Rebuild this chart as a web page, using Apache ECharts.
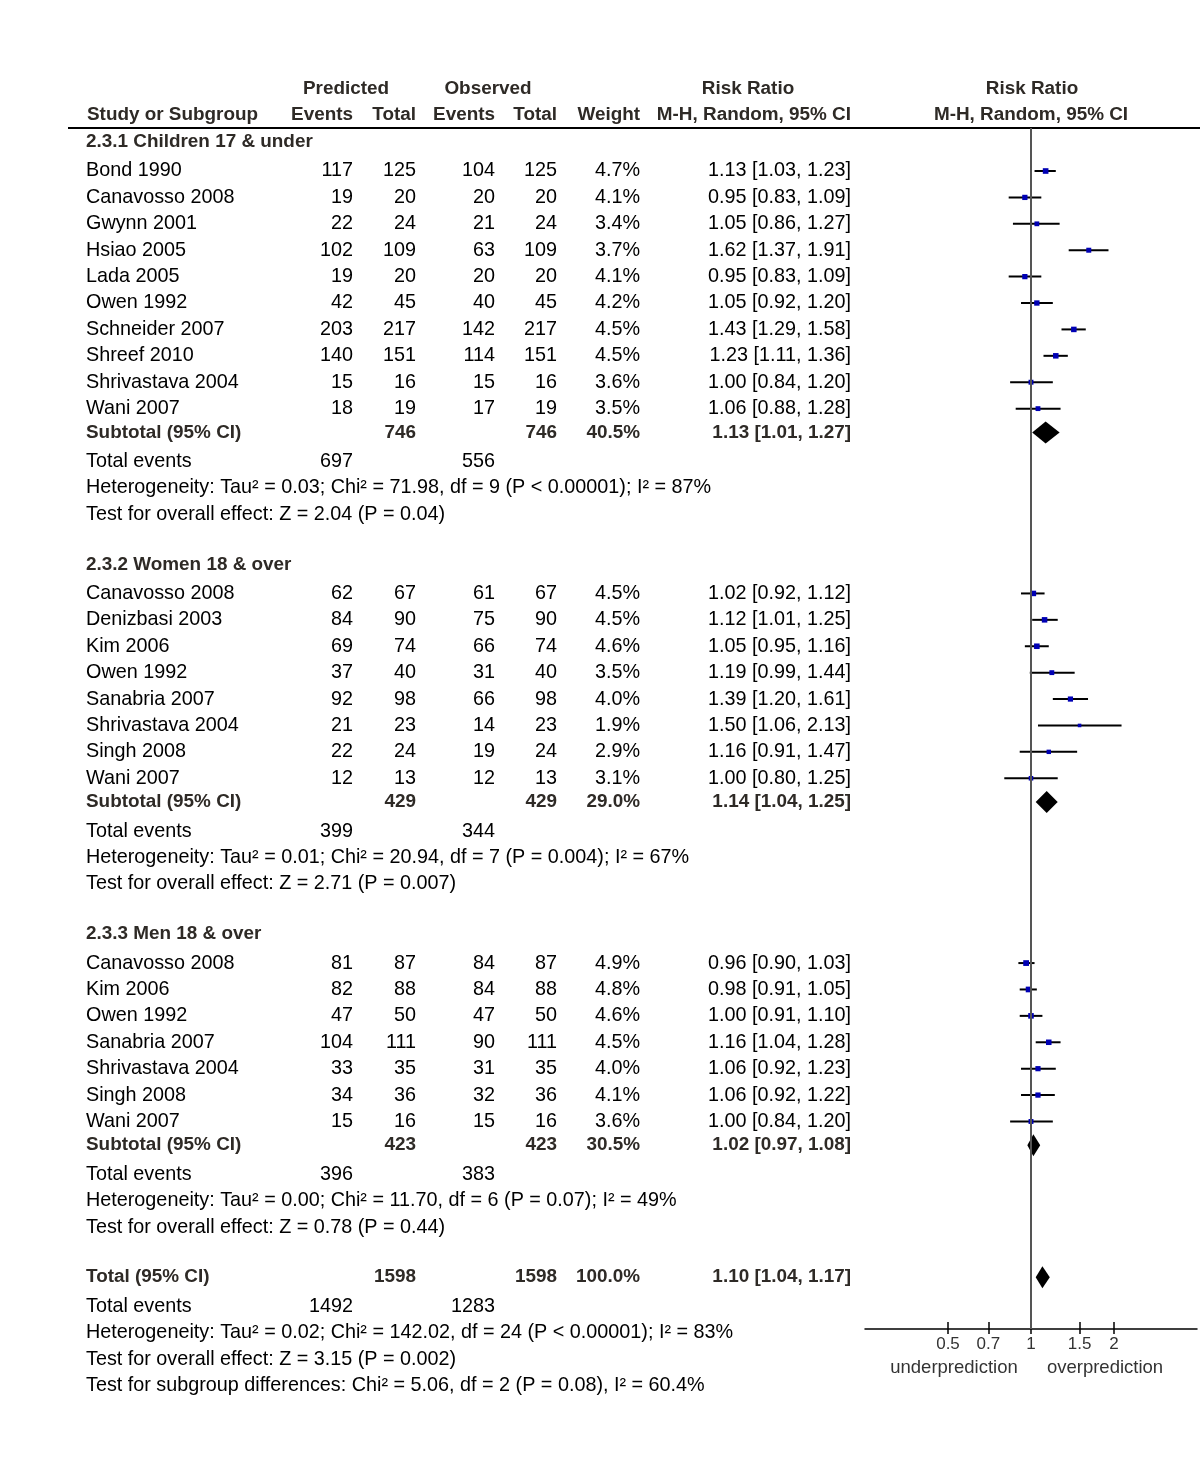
<!DOCTYPE html>
<html><head><meta charset="utf-8">
<script src="https://cdn.jsdelivr.net/npm/echarts@6/dist/echarts.min.js"></script>
<style>html,body{margin:0;padding:0;background:#fff}#c{width:1200px;height:1460px}</style>
</head><body><div id="c"></div>
<script>
// ---------------- DATA ----------------
const groupTitles = ["2.3.1 Children 17 & under", "2.3.2 Women 18 & over", "2.3.3 Men 18 & over"];

const names1 = ["Bond 1990","Canavosso 2008","Gwynn 2001","Hsiao 2005","Lada 2005","Owen 1992","Schneider 2007","Shreef 2010","Shrivastava 2004","Wani 2007"];
const predEvents1 = [117,19,22,102,19,42,203,140,15,18];
const predTotal1  = [125,20,24,109,20,45,217,151,16,19];
const obsEvents1  = [104,20,21,63,20,40,142,114,15,17];
const obsTotal1   = [125,20,24,109,20,45,217,151,16,19];
const weight1 = [4.7,4.1,3.4,3.7,4.1,4.2,4.5,4.5,3.6,3.5];
const rr1 = [1.13,0.95,1.05,1.62,0.95,1.05,1.43,1.23,1.00,1.06];
const lo1 = [1.03,0.83,0.86,1.37,0.83,0.92,1.29,1.11,0.84,0.88];
const hi1 = [1.23,1.09,1.27,1.91,1.09,1.20,1.58,1.36,1.20,1.28];

const names2 = ["Canavosso 2008","Denizbasi 2003","Kim 2006","Owen 1992","Sanabria 2007","Shrivastava 2004","Singh 2008","Wani 2007"];
const predEvents2 = [62,84,69,37,92,21,22,12];
const predTotal2  = [67,90,74,40,98,23,24,13];
const obsEvents2  = [61,75,66,31,66,14,19,12];
const obsTotal2   = [67,90,74,40,98,23,24,13];
const weight2 = [4.5,4.5,4.6,3.5,4.0,1.9,2.9,3.1];
const rr2 = [1.02,1.12,1.05,1.19,1.39,1.50,1.16,1.00];
const lo2 = [0.92,1.01,0.95,0.99,1.20,1.06,0.91,0.80];
const hi2 = [1.12,1.25,1.16,1.44,1.61,2.13,1.47,1.25];

const names3 = ["Canavosso 2008","Kim 2006","Owen 1992","Sanabria 2007","Shrivastava 2004","Singh 2008","Wani 2007"];
const predEvents3 = [81,82,47,104,33,34,15];
const predTotal3  = [87,88,50,111,35,36,16];
const obsEvents3  = [84,84,47,90,31,32,15];
const obsTotal3   = [87,88,50,111,35,36,16];
const weight3 = [4.9,4.8,4.6,4.5,4.0,4.1,3.6];
const rr3 = [0.96,0.98,1.00,1.16,1.06,1.06,1.00];
const lo3 = [0.90,0.91,0.91,1.04,0.92,0.92,0.84];
const hi3 = [1.03,1.05,1.10,1.28,1.23,1.22,1.20];

const subPredTotal = [746, 429, 423];
const subObsTotal  = [746, 429, 423];
const subWeight    = ["40.5%", "29.0%", "30.5%"];
const subRR = [1.13, 1.14, 1.02];
const subLo = [1.01, 1.04, 0.97];
const subHi = [1.27, 1.25, 1.08];
const subPredEvents = [697, 399, 396];
const subObsEvents  = [556, 344, 383];
const subHet = [
  "Heterogeneity: Tau² = 0.03; Chi² = 71.98, df = 9 (P < 0.00001); I² = 87%",
  "Heterogeneity: Tau² = 0.01; Chi² = 20.94, df = 7 (P = 0.004); I² = 67%",
  "Heterogeneity: Tau² = 0.00; Chi² = 11.70, df = 6 (P = 0.07); I² = 49%"
];
const subTest = [
  "Test for overall effect: Z = 2.04 (P = 0.04)",
  "Test for overall effect: Z = 2.71 (P = 0.007)",
  "Test for overall effect: Z = 0.78 (P = 0.44)"
];

const totalPredTotal = 1598, totalObsTotal = 1598, totalWeight = "100.0%";
const totalRR = 1.10, totalLo = 1.04, totalHi = 1.17;
const totalPredEvents = 1492, totalObsEvents = 1283;
const totalHet = "Heterogeneity: Tau² = 0.02; Chi² = 142.02, df = 24 (P < 0.00001); I² = 83%";
const totalTest = "Test for overall effect: Z = 3.15 (P = 0.002)";
const subgroupTest = "Test for subgroup differences: Chi² = 5.06, df = 2 (P = 0.08), I² = 60.4%";

const tickValues = [0.5, 0.7, 1, 1.5, 2];
const axisLeftLabel = "underprediction", axisRightLabel = "overprediction";

// ---------------- LAYOUT ----------------
const groups = [
  {names:names1, pe:predEvents1, pt:predTotal1, oe:obsEvents1, ot:obsTotal1, w:weight1, rr:rr1, lo:lo1, hi:hi1},
  {names:names2, pe:predEvents2, pt:predTotal2, oe:obsEvents2, ot:obsTotal2, w:weight2, rr:rr2, lo:lo2, hi:hi2},
  {names:names3, pe:predEvents3, pt:predTotal3, oe:obsEvents3, ot:obsTotal3, w:weight3, rr:rr3, lo:lo3, hi:hi3}
];

const fmt = v => v.toFixed(2);
const ciText = (r,l,h) => fmt(r) + " [" + fmt(l) + ", " + fmt(h) + "]";

const studyData = [];
const diamondData = [];
const rows = [];

let s = 0;
groups.forEach((g, gi) => {
  rows.push({r: s - 1.1, cells: [{t: groupTitles[gi], col: 'name', bold: true}]});
  g.names.forEach((n, i) => {
    const r = s + i;
    studyData.push([g.rr[i], g.lo[i], g.hi[i], r, g.w[i]]);
    rows.push({r, cells: [
      {t: n, col: 'name'}, {t: String(g.pe[i]), col: 'pe'}, {t: String(g.pt[i]), col: 'pt'},
      {t: String(g.oe[i]), col: 'oe'}, {t: String(g.ot[i]), col: 'ot'},
      {t: g.w[i].toFixed(1) + "%", col: 'w'}, {t: ciText(g.rr[i], g.lo[i], g.hi[i]), col: 'rr'}
    ]});
  });
  const n = g.names.length;
  diamondData.push([subRR[gi], subLo[gi], subHi[gi], s + n - 0.1]);
  rows.push({r: s + n - 0.1, cells: [
    {t: "Subtotal (95% CI)", col: 'name', bold: true}, {t: String(subPredTotal[gi]), col: 'pt', bold: true},
    {t: String(subObsTotal[gi]), col: 'ot', bold: true}, {t: subWeight[gi], col: 'w', bold: true},
    {t: ciText(subRR[gi], subLo[gi], subHi[gi]), col: 'rr', bold: true}
  ]});
  rows.push({r: s + n + 1, cells: [{t: "Total events", col: 'name'}, {t: String(subPredEvents[gi]), col: 'pe'}, {t: String(subObsEvents[gi]), col: 'oe'}]});
  rows.push({r: s + n + 2, cells: [{t: subHet[gi], col: 'name'}]});
  rows.push({r: s + n + 3, cells: [{t: subTest[gi], col: 'name'}]});
  s = s + n + 6;
});
diamondData.push([totalRR, totalLo, totalHi, s - 1.1]);
rows.push({r: s - 1.1, cells: [
  {t: "Total (95% CI)", col: 'name', bold: true}, {t: String(totalPredTotal), col: 'pt', bold: true},
  {t: String(totalObsTotal), col: 'ot', bold: true}, {t: totalWeight, col: 'w', bold: true},
  {t: ciText(totalRR, totalLo, totalHi), col: 'rr', bold: true}
]});
rows.push({r: s, cells: [{t: "Total events", col: 'name'}, {t: String(totalPredEvents), col: 'pe'}, {t: String(totalObsEvents), col: 'oe'}]});
rows.push({r: s + 1, cells: [{t: totalHet, col: 'name'}]});
rows.push({r: s + 2, cells: [{t: totalTest, col: 'name'}]});
rows.push({r: s + 3, cells: [{t: subgroupTest, col: 'name'}]});

const colX = {name: [86, 'left'], pe: [353, 'right'], pt: [416, 'right'], oe: [495, 'right'], ot: [557, 'right'], w: [640, 'right'], rr: [851, 'right']};
const FONT = '"Liberation Sans", Arial, sans-serif';
const fontReg = '19.8px ' + FONT, fontBold = 'bold 18.9px ' + FONT;
const boldColor = '#2e2a26';

const chart = echarts.init(document.getElementById('c'), null, {renderer: 'canvas'});

const xCommon = {type: 'log', logBase: 2, min: 0.25, max: 4, splitLine: {show: false}, position: 'bottom'};

chart.setOption({
  animation: false,
  backgroundColor: '#fff',
  grid: {left: 865, right: 3, top: 128, bottom: 131, containLabel: false},
  xAxis: [
    Object.assign({}, xCommon, {
      axisLine: {show: true, onZero: false, lineStyle: {color: '#000', width: 1.5}},
      axisTick: {show: true, inside: true, length: 7, lineStyle: {color: '#000', width: 1.5}, customValues: tickValues},
      axisLabel: {show: true, customValues: tickValues, margin: 7, color: '#333', fontSize: 17, fontFamily: FONT,
                  formatter: v => String(+v.toFixed(2))}
    }),
    Object.assign({}, xCommon, {
      offset: 0,
      axisLine: {show: false, onZero: false},
      axisTick: {show: true, inside: false, length: 5, lineStyle: {color: '#000', width: 1.5}, customValues: tickValues},
      axisLabel: {show: false}
    })
  ],
  yAxis: {type: 'value', inverse: true, min: -1.629, max: 43.86, show: false},
  series: [
    {
      type: 'custom', name: 'studies', xAxisIndex: 0, yAxisIndex: 0, clip: false,
      data: studyData, encode: {x: [0, 1, 2], y: 3},
      renderItem: (params, api) => {
        const row = api.value(3);
        const pm = api.coord([api.value(0), row]);
        const pl = api.coord([api.value(1), row]);
        const ph = api.coord([api.value(2), row]);
        const side = 2.6 * Math.sqrt(api.value(4));
        return {type: 'group', children: [
          {type: 'line', shape: {x1: pl[0], y1: pl[1], x2: ph[0], y2: ph[1]}, style: {stroke: '#000', lineWidth: 2}},
          {type: 'rect', shape: {x: pm[0] - side / 2, y: pm[1] - side / 2, width: side, height: side}, style: {fill: '#0000b4'}}
        ]};
      },
      markLine: {
        silent: true, symbol: ['none', 'none'], label: {show: false},
        lineStyle: {color: '#555', width: 2, type: 'solid'},
        data: [{xAxis: 1}]
      }
    },
    {
      type: 'custom', name: 'diamonds', xAxisIndex: 0, yAxisIndex: 0, clip: false,
      data: diamondData, encode: {x: [0, 1, 2], y: 3},
      renderItem: (params, api) => {
        const row = api.value(3);
        const pm = api.coord([api.value(0), row]);
        const pl = api.coord([api.value(1), row]);
        const ph = api.coord([api.value(2), row]);
        const h = 11;
        return {type: 'polygon', shape: {points: [[pl[0], pm[1]], [pm[0], pm[1] - h], [ph[0], pm[1]], [pm[0], pm[1] + h]]},
                style: {fill: '#000'}};
      }
    }
  ]
});

// ---------------- TEXT ----------------
const py = r => chart.convertToPixel({yAxisIndex: 0}, r);
const els = [];
function txt(t, x, y, align, bold, color, font) {
  els.push({type: 'text', x: x, y: y, silent: true,
    style: {text: t, font: font || (bold ? fontBold : fontReg), fill: color || (bold ? boldColor : '#000'),
            textAlign: align, textVerticalAlign: 'middle', verticalAlign: 'middle'}});
}
txt("Predicted", 346, 89, 'center', true);
txt("Observed", 488, 89, 'center', true);
txt("Risk Ratio", 748, 89, 'center', true);
txt("Risk Ratio", 1032, 89, 'center', true);
txt("Study or Subgroup", 87, 115, 'left', true);
txt("Events", 353, 115, 'right', true);
txt("Total", 416, 115, 'right', true);
txt("Events", 495, 115, 'right', true);
txt("Total", 557, 115, 'right', true);
txt("Weight", 640, 115, 'right', true);
txt("M-H, Random, 95% CI", 851, 115, 'right', true);
txt("M-H, Random, 95% CI", 1031, 115, 'center', true);

rows.forEach(row => {
  const y = py(row.r);
  row.cells.forEach(c => {
    const [x, a] = colX[c.col];
    txt(c.t, x, y, a, !!c.bold);
  });
});

txt(axisLeftLabel, 954, 1368, 'center', false, '#333', '18.5px ' + FONT);
txt(axisRightLabel, 1105, 1368, 'center', false, '#333', '18.5px ' + FONT);

els.push({type: 'line', silent: true, shape: {x1: 68, y1: 128, x2: 1200, y2: 128}, style: {stroke: '#000', lineWidth: 2}});

chart.setOption({graphic: {elements: els}});
</script>
</body></html>
